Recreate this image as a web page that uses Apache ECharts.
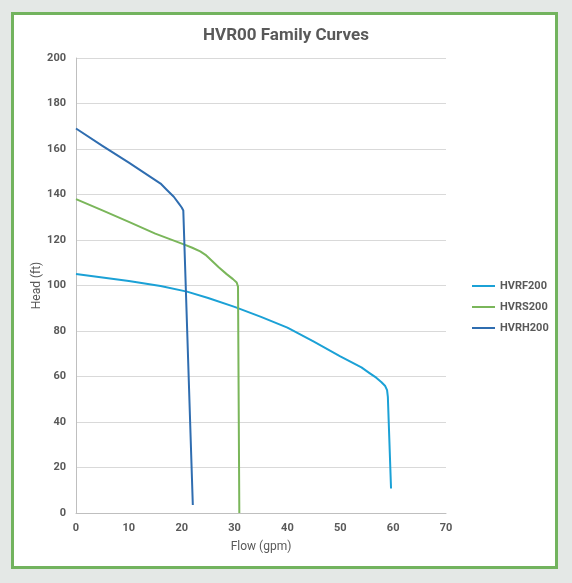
<!DOCTYPE html>
<html>
<head>
<meta charset="utf-8">
<script src="https://cdn.jsdelivr.net/npm/echarts@6/dist/echarts.min.js"></script>
<style>
    html, body { margin: 0; padding: 0; background: #e4e8e6; }
    #frame {
        position: absolute; left: 11px; top: 12px; width: 541px; height: 551px;
        border: 3px solid #72b35e; background: #ffffff;
    }
    #chart { position: absolute; left: 0; top: 0; width: 572px; height: 583px; }
</style>
</head>
<body>
<div id="frame"></div>
<div id="chart"></div>
<script>
    // 曲线数据 (flow gpm / head ft)
    var hvrfFlow = [0, 10, 16, 21, 25, 30, 35, 40, 45, 50, 54, 55.6, 56.8, 57.8, 58.5, 58.85, 59, 59.6];
    var hvrfHead = [105.1, 102, 99.8, 97.3, 94.5, 90.6, 86.2, 81.5, 75.3, 68.8, 64, 61.4, 59.5, 57.5, 55.8, 54, 51, 10.8];

    var hvrsFlow = [0, 5, 10, 15, 20.4, 22, 23.5, 24.5, 25.5, 27, 28.5, 29.7, 30.4, 30.65, 30.9];
    var hvrsHead = [138, 133, 128, 122.8, 118.1, 116.6, 115, 113.5, 111.3, 108, 105, 102.8, 101.3, 99.5, 0];

    var hvrhFlow = [0, 5, 10, 14.5, 16, 17.2, 18.5, 19.4, 20, 20.3, 22.1];
    var hvrhHead = [169, 161.4, 154, 147.1, 144.8, 142, 139, 136.2, 134.3, 133, 3.5];

    var seriesNames = ['HVRF200', 'HVRS200', 'HVRH200'];
    var seriesColors = ['#1ba1d6', '#7ab65a', '#2f6db0'];

    var zip = function (xs, ys) {
        var out = [];
        for (var i = 0; i < xs.length; i++) {
            out.push([xs[i], ys[i]]);
        }
        return out;
    };
    var curves = [zip(hvrfFlow, hvrfHead), zip(hvrsFlow, hvrsHead), zip(hvrhFlow, hvrhHead)];

    var FONT = 'Roboto, "Open Sans", sans-serif';
    var chart = echarts.init(document.getElementById('chart'));
    var series = [];
    for (var i = 0; i < seriesNames.length; i++) {
        series.push({
            name: seriesNames[i],
            type: 'line',
            data: curves[i],
            showSymbol: false,
            smooth: false,
            lineStyle: { width: 2, color: seriesColors[i], join: 'round' },
            itemStyle: { color: seriesColors[i] }
        });
    }

    chart.setOption({
        animation: false,
        backgroundColor: 'transparent',
        title: {
            text: 'HVR00 Family Curves',
            left: 'center',
            top: 22,
            textStyle: { fontFamily: FONT, fontSize: 17, fontWeight: 'bold', color: '#595959' }
        },
        legend: {
            orient: 'vertical',
            left: 472,
            top: 279,
            padding: 0,
            itemWidth: 23,
            itemHeight: 14,
            itemGap: 7,
            icon: 'path://M0,6 L23,6 L23,8 L0,8 Z',
            data: seriesNames,
            textStyle: { fontFamily: FONT, fontSize: 11, fontWeight: 'bold', color: '#595959', lineHeight: 14 }
        },
        grid: { left: 76, right: 126, top: 58, bottom: 70 },
        xAxis: {
            type: 'value',
            min: 0, max: 70, interval: 10,
            name: 'Flow (gpm)',
            nameLocation: 'middle',
            nameGap: 28,
            nameTextStyle: { fontFamily: FONT, fontSize: 12, color: '#595959' },
            axisLine: { show: true, lineStyle: { color: '#bfbfbf', width: 1 } },
            axisTick: { show: false },
            splitLine: { show: false },
            axisLabel: { fontFamily: FONT, fontSize: 11, fontWeight: 'bold', color: '#595959', margin: 10 }
        },
        yAxis: {
            type: 'value',
            min: 0, max: 200, interval: 20,
            name: 'Head (ft)',
            nameLocation: 'middle',
            nameGap: 33,
            nameMoveOverlap: false,
            nameTextStyle: { fontFamily: FONT, fontSize: 12, color: '#595959' },
            axisLine: { show: true, lineStyle: { color: '#bfbfbf', width: 1 } },
            axisTick: { show: false },
            splitLine: { show: true, lineStyle: { color: '#d9d9d9', width: 1 } },
            axisLabel: { fontFamily: FONT, fontSize: 11, fontWeight: 'bold', color: '#595959', margin: 10 }
        },
        series: series
    });
</script>
</body>
</html>
